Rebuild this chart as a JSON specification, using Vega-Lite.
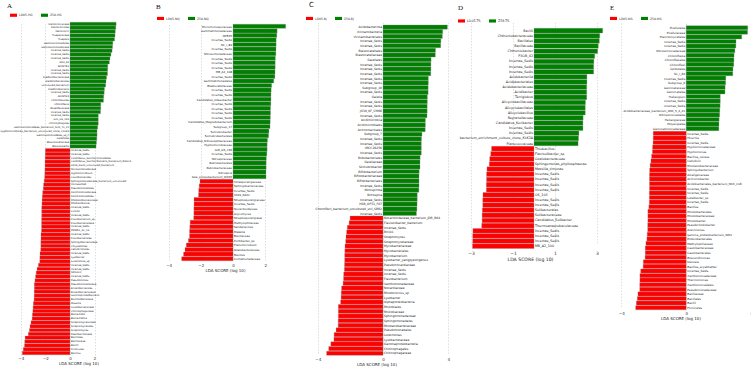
{
  "$schema": "https://vega.github.io/schema/vega-lite/v6.json",
  "background": "white",
  "padding": {"top": 1, "left": 0, "right": 0, "bottom": 0},
  "spacing": 0,
  "config": {
    "view": {"stroke": null},
    "font": "DejaVu Sans",
    "title": {"anchor": "start", "frame": "group", "fontSize": 7, "fontWeight": "normal", "baseline": "alphabetic", "font": "Liberation Serif", "color": "#111"},
    "axisX": {"grid": true, "gridDash": [1.5, 1.5], "gridColor": "#bdbdbd", "gridWidth": 0.5, "domain": false, "ticks": false, "labelOverlap": false, "labelFontSize": 4, "labelPadding": 1.5, "labelColor": "#333", "titleFontSize": 4, "titleFontWeight": "normal", "titlePadding": 1, "titleColor": "#222"},
    "legend": {"orient": "none", "direction": "horizontal", "columns": 2, "padding": 0, "symbolType": "M-1,-0.45H1V0.45H-1Z", "symbolSize": 49, "symbolStrokeWidth": 0, "labelFontSize": 3, "labelOffset": 2, "columnPadding": 8, "labelColor": "#333"},
    "text": {"color": "#222"}
  },
  "resolve": {"scale": {"color": "independent", "x": "independent", "y": "independent"}},
  "datasets": {
    "A": [
      {"rank": 1, "taxon": "Deinococcaceae", "lda": 3.75, "group": "Z58-HG"},
      {"rank": 2, "taxon": "Deinococcales", "lda": 3.72, "group": "Z58-HG"},
      {"rank": 3, "taxon": "Deinococci", "lda": 3.68, "group": "Z58-HG"},
      {"rank": 4, "taxon": "Trueperaceae", "lda": 3.66, "group": "Z58-HG"},
      {"rank": 5, "taxon": "Truepera", "lda": 3.62, "group": "Z58-HG"},
      {"rank": 6, "taxon": "Gemmatimonadales", "lda": 3.48, "group": "Z58-HG"},
      {"rank": 7, "taxon": "Gemmatimonadaceae", "lda": 3.46, "group": "Z58-HG"},
      {"rank": 8, "taxon": "Incertae_Sedis", "lda": 3.42, "group": "Z58-HG"},
      {"rank": 9, "taxon": "Incertae_Sedis", "lda": 3.33, "group": "Z58-HG"},
      {"rank": 10, "taxon": "Incertae_Sedis", "lda": 3.25, "group": "Z58-HG"},
      {"rank": 11, "taxon": "KD4_96", "lda": 3.2, "group": "Z58-HG"},
      {"rank": 12, "taxon": "AKIW781", "lda": 3.07, "group": "Z58-HG"},
      {"rank": 13, "taxon": "Incertae_Sedis", "lda": 3.06, "group": "Z58-HG"},
      {"rank": 14, "taxon": "Incertae_Sedis", "lda": 3.05, "group": "Z58-HG"},
      {"rank": 15, "taxon": "Ktedonobacteraceae", "lda": 2.97, "group": "Z58-HG"},
      {"rank": 16, "taxon": "Ktedonobacterales", "lda": 2.93, "group": "Z58-HG"},
      {"rank": 17, "taxon": "uncultured_bacterium", "lda": 2.9, "group": "Z58-HG"},
      {"rank": 18, "taxon": "Ktedonobacteria", "lda": 2.8, "group": "Z58-HG"},
      {"rank": 19, "taxon": "Incertae_Sedis", "lda": 2.78, "group": "Z58-HG"},
      {"rank": 20, "taxon": "AKIW543", "lda": 2.74, "group": "Z58-HG"},
      {"rank": 21, "taxon": "Chloroflexales", "lda": 2.72, "group": "Z58-HG"},
      {"rank": 22, "taxon": "Chloroflexia", "lda": 2.5, "group": "Z58-HG"},
      {"rank": 23, "taxon": "Roseiflexaceae", "lda": 2.5, "group": "Z58-HG"},
      {"rank": 24, "taxon": "Incertae_Sedis", "lda": 2.48, "group": "Z58-HG"},
      {"rank": 25, "taxon": "Incertae_Sedis", "lda": 2.3, "group": "Z58-HG"},
      {"rank": 26, "taxon": "Gitt_GS_136", "lda": 2.3, "group": "Z58-HG"},
      {"rank": 27, "taxon": "Chitinophagales", "lda": 2.3, "group": "Z58-HG"},
      {"rank": 28, "taxon": "Gemmatimonadetes_bacterium_SCN_70_22", "lda": 2.25, "group": "Z58-HG"},
      {"rank": 29, "taxon": "Hyphomicrobiales_bacterium_uncultured_clone_C1069", "lda": 2.2, "group": "Z58-HG"},
      {"rank": 30, "taxon": "Gemmatimonadetes_sp_II", "lda": 2.2, "group": "Z58-HG"},
      {"rank": 31, "taxon": "Gaiellales", "lda": 2.18, "group": "Z58-HG"},
      {"rank": 32, "taxon": "Blastocatellaceae", "lda": 2.15, "group": "Z58-HG"},
      {"rank": 33, "taxon": "Blastocatellia", "lda": 2.12, "group": "Z58-HG"},
      {"rank": 34, "taxon": "Incertae_Sedis", "lda": -2.0, "group": "LD05-HG"},
      {"rank": 35, "taxon": "Incertae_Sedis", "lda": -2.01, "group": "LD05-HG"},
      {"rank": 36, "taxon": "Candidatus_Saccharimonadales", "lda": -2.02, "group": "LD05-HG"},
      {"rank": 37, "taxon": "Candidatus_Saccharibacteria_bacterium_RAAC3", "lda": -2.03, "group": "LD05-HG"},
      {"rank": 38, "taxon": "0319_6G20_uncultured_bacterium", "lda": -2.03, "group": "LD05-HG"},
      {"rank": 39, "taxon": "Nitrosomonadaceae", "lda": -2.04, "group": "LD05-HG"},
      {"rank": 40, "taxon": "Hyphomicrobium", "lda": -2.05, "group": "LD05-HG"},
      {"rank": 41, "taxon": "Caulobacterales", "lda": -2.06, "group": "LD05-HG"},
      {"rank": 42, "taxon": "Sphingomonadaceae_bacterium_uncultured", "lda": -2.1, "group": "LD05-HG"},
      {"rank": 43, "taxon": "Unclassified", "lda": -2.15, "group": "LD05-HG"},
      {"rank": 44, "taxon": "Pseudomonadales", "lda": -2.17, "group": "LD05-HG"},
      {"rank": 45, "taxon": "Xanthomonadaceae", "lda": -2.22, "group": "LD05-HG"},
      {"rank": 46, "taxon": "Xanthomonadales", "lda": -2.25, "group": "LD05-HG"},
      {"rank": 47, "taxon": "Rhodanobacteraceae", "lda": -2.27, "group": "LD05-HG"},
      {"rank": 48, "taxon": "Rhodanobacter", "lda": -2.28, "group": "LD05-HG"},
      {"rank": 49, "taxon": "Incertae_Sedis", "lda": -2.3, "group": "LD05-HG"},
      {"rank": 50, "taxon": "CCD24", "lda": -2.3, "group": "LD05-HG"},
      {"rank": 51, "taxon": "Incertae_Sedis", "lda": -2.3, "group": "LD05-HG"},
      {"rank": 52, "taxon": "Flavobacterium_sp", "lda": -2.31, "group": "LD05-HG"},
      {"rank": 53, "taxon": "Flavobacteriaceae", "lda": -2.31, "group": "LD05-HG"},
      {"rank": 54, "taxon": "Incertae_Sedis", "lda": -2.31, "group": "LD05-HG"},
      {"rank": 55, "taxon": "PMMR1_AC_16", "lda": -2.32, "group": "LD05-HG"},
      {"rank": 56, "taxon": "Incertae_Sedis", "lda": -2.36, "group": "LD05-HG"},
      {"rank": 57, "taxon": "Flavobacteriales", "lda": -2.36, "group": "LD05-HG"},
      {"rank": 58, "taxon": "Sphingobacteriaceae", "lda": -2.37, "group": "LD05-HG"},
      {"rank": 59, "taxon": "Chryseolinea", "lda": -2.37, "group": "LD05-HG"},
      {"rank": 60, "taxon": "Cellvibrionales", "lda": -2.38, "group": "LD05-HG"},
      {"rank": 61, "taxon": "Incertae_Sedis", "lda": -2.44, "group": "LD05-HG"},
      {"rank": 62, "taxon": "Lysobacter", "lda": -2.45, "group": "LD05-HG"},
      {"rank": 63, "taxon": "Luteimonas_sp", "lda": -2.46, "group": "LD05-HG"},
      {"rank": 64, "taxon": "Incertae_Sedis", "lda": -2.57, "group": "LD05-HG"},
      {"rank": 65, "taxon": "Incertae_Sedis", "lda": -2.68, "group": "LD05-HG"},
      {"rank": 66, "taxon": "SM1A02", "lda": -2.75, "group": "LD05-HG"},
      {"rank": 67, "taxon": "Incertae_Sedis", "lda": -2.8, "group": "LD05-HG"},
      {"rank": 68, "taxon": "Pseudomonas", "lda": -2.85, "group": "LD05-HG"},
      {"rank": 69, "taxon": "Pseudomonadaceae", "lda": -2.9, "group": "LD05-HG"},
      {"rank": 70, "taxon": "Enterobacterales", "lda": -2.9, "group": "LD05-HG"},
      {"rank": 71, "taxon": "Enterobacteriaceae", "lda": -2.91, "group": "LD05-HG"},
      {"rank": 72, "taxon": "Gammaproteobacteria", "lda": -2.91, "group": "LD05-HG"},
      {"rank": 73, "taxon": "Burkholderiaceae", "lda": -2.92, "group": "LD05-HG"},
      {"rank": 74, "taxon": "Massilia", "lda": -2.98, "group": "LD05-HG"},
      {"rank": 75, "taxon": "Oxalobacteraceae", "lda": -3.0, "group": "LD05-HG"},
      {"rank": 76, "taxon": "Chitinophagaceae", "lda": -3.02, "group": "LD05-HG"},
      {"rank": 77, "taxon": "Bacteroidia", "lda": -3.06, "group": "LD05-HG"},
      {"rank": 78, "taxon": "Bacteroidota", "lda": -3.08, "group": "LD05-HG"},
      {"rank": 79, "taxon": "Streptomycetaceae", "lda": -3.17, "group": "LD05-HG"},
      {"rank": 80, "taxon": "Streptomycetales", "lda": -3.25, "group": "LD05-HG"},
      {"rank": 81, "taxon": "Streptomyces", "lda": -3.3, "group": "LD05-HG"},
      {"rank": 82, "taxon": "Paenibacillaceae", "lda": -3.39, "group": "LD05-HG"},
      {"rank": 83, "taxon": "Bacillales", "lda": -3.65, "group": "LD05-HG"},
      {"rank": 84, "taxon": "Bacillaceae", "lda": -3.68, "group": "LD05-HG"},
      {"rank": 85, "taxon": "Bacilli", "lda": -3.7, "group": "LD05-HG"},
      {"rank": 86, "taxon": "Firmicutes", "lda": -3.8, "group": "LD05-HG"},
      {"rank": 87, "taxon": "Bacillus", "lda": -3.88, "group": "LD05-HG"}
    ],
    "B": [
      {"rank": 1, "taxon": "Micromonosporaceae", "lda": 3.27, "group": "Z58-NQ"},
      {"rank": 2, "taxon": "Gemmatimonadaceae", "lda": 2.74, "group": "Z58-NQ"},
      {"rank": 3, "taxon": "OPB35", "lda": 2.72, "group": "Z58-NQ"},
      {"rank": 4, "taxon": "Incertae_Sedis", "lda": 2.68, "group": "Z58-NQ"},
      {"rank": 5, "taxon": "SC_I_84", "lda": 2.68, "group": "Z58-NQ"},
      {"rank": 6, "taxon": "Incertae_Sedis", "lda": 2.67, "group": "Z58-NQ"},
      {"rank": 7, "taxon": "Nitrosomonadaceae", "lda": 2.66, "group": "Z58-NQ"},
      {"rank": 8, "taxon": "Incertae_Sedis", "lda": 2.63, "group": "Z58-NQ"},
      {"rank": 9, "taxon": "Incertae_Sedis", "lda": 2.62, "group": "Z58-NQ"},
      {"rank": 10, "taxon": "Incertae_Sedis", "lda": 2.62, "group": "Z58-NQ"},
      {"rank": 11, "taxon": "MB_A2_108", "lda": 2.61, "group": "Z58-NQ"},
      {"rank": 12, "taxon": "Incertae_Sedis", "lda": 2.6, "group": "Z58-NQ"},
      {"rank": 13, "taxon": "Gemmatimonadales", "lda": 2.53, "group": "Z58-NQ"},
      {"rank": 14, "taxon": "Blastocatellaceae", "lda": 2.4, "group": "Z58-NQ"},
      {"rank": 15, "taxon": "Incertae_Sedis", "lda": 2.37, "group": "Z58-NQ"},
      {"rank": 16, "taxon": "Incertae_Sedis", "lda": 2.36, "group": "Z58-NQ"},
      {"rank": 17, "taxon": "Candidatus_Udaeobacter", "lda": 2.36, "group": "Z58-NQ"},
      {"rank": 18, "taxon": "Incertae_Sedis", "lda": 2.35, "group": "Z58-NQ"},
      {"rank": 19, "taxon": "Incertae_Sedis", "lda": 2.33, "group": "Z58-NQ"},
      {"rank": 20, "taxon": "Incertae_Sedis", "lda": 2.33, "group": "Z58-NQ"},
      {"rank": 21, "taxon": "Incertae_Sedis", "lda": 2.32, "group": "Z58-NQ"},
      {"rank": 22, "taxon": "Candidatus_Magnetobacterium", "lda": 2.31, "group": "Z58-NQ"},
      {"rank": 23, "taxon": "Subgroup_17", "lda": 2.3, "group": "Z58-NQ"},
      {"rank": 24, "taxon": "Solirubrobacter", "lda": 2.23, "group": "Z58-NQ"},
      {"rank": 25, "taxon": "Solirubrobacterales", "lda": 2.21, "group": "Z58-NQ"},
      {"rank": 26, "taxon": "Candidatus_Nitrososphaeraceae", "lda": 2.14, "group": "Z58-NQ"},
      {"rank": 27, "taxon": "Hyphomicrobiaceae", "lda": 2.12, "group": "Z58-NQ"},
      {"rank": 28, "taxon": "Gitt_GS_136", "lda": 2.12, "group": "Z58-NQ"},
      {"rank": 29, "taxon": "Incertae_Sedis", "lda": 2.1, "group": "Z58-NQ"},
      {"rank": 30, "taxon": "Nitrospiraceae", "lda": 2.07, "group": "Z58-NQ"},
      {"rank": 31, "taxon": "Rubrobacterales", "lda": 2.06, "group": "Z58-NQ"},
      {"rank": 32, "taxon": "Rubrobacteraceae", "lda": 2.06, "group": "Z58-NQ"},
      {"rank": 33, "taxon": "Nitrospira", "lda": 2.05, "group": "Z58-NQ"},
      {"rank": 34, "taxon": "Asia_proteobacterium_WX65", "lda": 2.05, "group": "Z58-NQ"},
      {"rank": 35, "taxon": "Intrasporangiaceae", "lda": -2.05, "group": "LD05-NQ"},
      {"rank": 36, "taxon": "Sphingobacteriaceae", "lda": -2.1, "group": "LD05-NQ"},
      {"rank": 37, "taxon": "Incertae_Sedis", "lda": -2.13, "group": "LD05-NQ"},
      {"rank": 38, "taxon": "0319_6A21", "lda": -2.14, "group": "LD05-NQ"},
      {"rank": 39, "taxon": "Streptosporangiaceae", "lda": -2.42, "group": "LD05-NQ"},
      {"rank": 40, "taxon": "Incertae_Sedis", "lda": -2.42, "group": "LD05-NQ"},
      {"rank": 41, "taxon": "Nocardioidaceae", "lda": -2.43, "group": "LD05-NQ"},
      {"rank": 42, "taxon": "Glycomyces", "lda": -2.43, "group": "LD05-NQ"},
      {"rank": 43, "taxon": "Streptosporangiales", "lda": -2.44, "group": "LD05-NQ"},
      {"rank": 44, "taxon": "Methylophilaceae", "lda": -2.66, "group": "LD05-NQ"},
      {"rank": 45, "taxon": "Sandaracinus", "lda": -2.68, "group": "LD05-NQ"},
      {"rank": 46, "taxon": "Massilia", "lda": -2.7, "group": "LD05-NQ"},
      {"rank": 47, "taxon": "Bacillaceae", "lda": -2.7, "group": "LD05-NQ"},
      {"rank": 48, "taxon": "Pontibacter_sp", "lda": -2.77, "group": "LD05-NQ"},
      {"rank": 49, "taxon": "Planomicrobium", "lda": -2.9, "group": "LD05-NQ"},
      {"rank": 50, "taxon": "Oxalobacteraceae", "lda": -2.98, "group": "LD05-NQ"},
      {"rank": 51, "taxon": "Bacillus", "lda": -3.07, "group": "LD05-NQ"},
      {"rank": 52, "taxon": "Comamonadaceae", "lda": -3.19, "group": "LD05-NQ"}
    ],
    "C": [
      {"rank": 1, "taxon": "Acidobacteriota", "lda": 3.95, "group": "Z58-BJ"},
      {"rank": 2, "taxon": "Vicinamibacteria", "lda": 3.66, "group": "Z58-BJ"},
      {"rank": 3, "taxon": "Vicinamibacterales", "lda": 3.64, "group": "Z58-BJ"},
      {"rank": 4, "taxon": "Incertae_Sedis", "lda": 3.55, "group": "Z58-BJ"},
      {"rank": 5, "taxon": "Incertae_Sedis", "lda": 3.54, "group": "Z58-BJ"},
      {"rank": 6, "taxon": "Blastocatellales", "lda": 3.22, "group": "Z58-BJ"},
      {"rank": 7, "taxon": "Blastocatellaceae", "lda": 3.21, "group": "Z58-BJ"},
      {"rank": 8, "taxon": "Gaiellales", "lda": 2.95, "group": "Z58-BJ"},
      {"rank": 9, "taxon": "Incertae_Sedis", "lda": 2.94, "group": "Z58-BJ"},
      {"rank": 10, "taxon": "Incertae_Sedis", "lda": 2.94, "group": "Z58-BJ"},
      {"rank": 11, "taxon": "Incertae_Sedis", "lda": 2.93, "group": "Z58-BJ"},
      {"rank": 12, "taxon": "Incertae_Sedis", "lda": 2.78, "group": "Z58-BJ"},
      {"rank": 13, "taxon": "Incertae_Sedis", "lda": 2.78, "group": "Z58-BJ"},
      {"rank": 14, "taxon": "Subgroup_10", "lda": 2.77, "group": "Z58-BJ"},
      {"rank": 15, "taxon": "Incertae_Sedis", "lda": 2.77, "group": "Z58-BJ"},
      {"rank": 16, "taxon": "Gaiella", "lda": 2.72, "group": "Z58-BJ"},
      {"rank": 17, "taxon": "Incertae_Sedis", "lda": 2.72, "group": "Z58-BJ"},
      {"rank": 18, "taxon": "Incertae_Sedis", "lda": 2.71, "group": "Z58-BJ"},
      {"rank": 19, "taxon": "JG30_KF_CM66", "lda": 2.71, "group": "Z58-BJ"},
      {"rank": 20, "taxon": "Incertae_Sedis", "lda": 2.7, "group": "Z58-BJ"},
      {"rank": 21, "taxon": "Acidimicrobiia", "lda": 2.6, "group": "Z58-BJ"},
      {"rank": 22, "taxon": "Acidimicrobiales", "lda": 2.6, "group": "Z58-BJ"},
      {"rank": 23, "taxon": "Actinomarinales", "lda": 2.59, "group": "Z58-BJ"},
      {"rank": 24, "taxon": "Subgroup_7", "lda": 2.39, "group": "Z58-BJ"},
      {"rank": 25, "taxon": "Incertae_Sedis", "lda": 2.36, "group": "Z58-BJ"},
      {"rank": 26, "taxon": "Incertae_Sedis", "lda": 2.35, "group": "Z58-BJ"},
      {"rank": 27, "taxon": "IMCC26256", "lda": 2.35, "group": "Z58-BJ"},
      {"rank": 28, "taxon": "Incertae_Sedis", "lda": 2.35, "group": "Z58-BJ"},
      {"rank": 29, "taxon": "Rokubacteriales", "lda": 2.28, "group": "Z58-BJ"},
      {"rank": 30, "taxon": "Gaiellaceae", "lda": 2.27, "group": "Z58-BJ"},
      {"rank": 31, "taxon": "Solirubrobacter", "lda": 2.27, "group": "Z58-BJ"},
      {"rank": 32, "taxon": "Bifidobacterium", "lda": 2.22, "group": "Z58-BJ"},
      {"rank": 33, "taxon": "Bifidobacteriaceae", "lda": 2.21, "group": "Z58-BJ"},
      {"rank": 34, "taxon": "Bifidobacteriales", "lda": 2.21, "group": "Z58-BJ"},
      {"rank": 35, "taxon": "Incertae_Sedis", "lda": 2.21, "group": "Z58-BJ"},
      {"rank": 36, "taxon": "Nitrospirota", "lda": 2.2, "group": "Z58-BJ"},
      {"rank": 37, "taxon": "Nitrospira", "lda": 2.1, "group": "Z58-BJ"},
      {"rank": 38, "taxon": "Incertae_Sedis", "lda": 2.1, "group": "Z58-BJ"},
      {"rank": 39, "taxon": "HSB_OF53_F07", "lda": 2.09, "group": "Z58-BJ"},
      {"rank": 40, "taxon": "Chloroflexi_bacterium_uncultured_soil_SBR2", "lda": 2.08, "group": "Z58-BJ"},
      {"rank": 41, "taxon": "Incertae_Sedis", "lda": 2.05, "group": "Z58-BJ"},
      {"rank": 42, "taxon": "Nocardioidaceae_bacterium_JDR_B04", "lda": -2.02, "group": "LD05-BJ"},
      {"rank": 43, "taxon": "Flavisolibacter_bacterium", "lda": -2.08, "group": "LD05-BJ"},
      {"rank": 44, "taxon": "Incertae_Sedis", "lda": -2.19, "group": "LD05-BJ"},
      {"rank": 45, "taxon": "BIrii41", "lda": -2.23, "group": "LD05-BJ"},
      {"rank": 46, "taxon": "Streptomyces", "lda": -2.27, "group": "LD05-BJ"},
      {"rank": 47, "taxon": "Streptomycetaceae", "lda": -2.29, "group": "LD05-BJ"},
      {"rank": 48, "taxon": "Mycobacteriaceae", "lda": -2.33, "group": "LD05-BJ"},
      {"rank": 49, "taxon": "Mycobacteriales", "lda": -2.34, "group": "LD05-BJ"},
      {"rank": 50, "taxon": "Mycobacterium", "lda": -2.35, "group": "LD05-BJ"},
      {"rank": 51, "taxon": "Lysobacter_yangpyeongensis", "lda": -2.35, "group": "LD05-BJ"},
      {"rank": 52, "taxon": "Pseudonocardiaceae", "lda": -2.36, "group": "LD05-BJ"},
      {"rank": 53, "taxon": "Incertae_Sedis", "lda": -2.37, "group": "LD05-BJ"},
      {"rank": 54, "taxon": "Incertae_Sedis", "lda": -2.41, "group": "LD05-BJ"},
      {"rank": 55, "taxon": "Flavobacterium", "lda": -2.42, "group": "LD05-BJ"},
      {"rank": 56, "taxon": "Xanthomonadaceae", "lda": -2.45, "group": "LD05-BJ"},
      {"rank": 57, "taxon": "Nocardiaceae", "lda": -2.54, "group": "LD05-BJ"},
      {"rank": 58, "taxon": "Rhodococcus_sp", "lda": -2.56, "group": "LD05-BJ"},
      {"rank": 59, "taxon": "Lysobacter", "lda": -2.57, "group": "LD05-BJ"},
      {"rank": 60, "taxon": "Alphaproteobacteria", "lda": -2.6, "group": "LD05-BJ"},
      {"rank": 61, "taxon": "Rhizobiales", "lda": -2.74, "group": "LD05-BJ"},
      {"rank": 62, "taxon": "Rhizobiaceae", "lda": -2.74, "group": "LD05-BJ"},
      {"rank": 63, "taxon": "Sphingomonadaceae", "lda": -2.74, "group": "LD05-BJ"},
      {"rank": 64, "taxon": "Sphingomonadales", "lda": -2.75, "group": "LD05-BJ"},
      {"rank": 65, "taxon": "Rhodanobacteraceae", "lda": -2.75, "group": "LD05-BJ"},
      {"rank": 66, "taxon": "Pseudomonadales", "lda": -2.88, "group": "LD05-BJ"},
      {"rank": 67, "taxon": "Luteimonas", "lda": -3.0, "group": "LD05-BJ"},
      {"rank": 68, "taxon": "Lysobacteraceae", "lda": -3.01, "group": "LD05-BJ"},
      {"rank": 69, "taxon": "Gammaproteobacteria", "lda": -3.2, "group": "LD05-BJ"},
      {"rank": 70, "taxon": "Chitinophagales", "lda": -3.33, "group": "LD05-BJ"},
      {"rank": 71, "taxon": "Chitinophagaceae", "lda": -3.46, "group": "LD05-BJ"}
    ],
    "D": [
      {"rank": 1, "taxon": "Bacilli", "lda": 3.27, "group": "Z58-TS"},
      {"rank": 2, "taxon": "Chthoniobacteraceae", "lda": 3.13, "group": "Z58-TS"},
      {"rank": 3, "taxon": "Bacillales", "lda": 3.11, "group": "Z58-TS"},
      {"rank": 4, "taxon": "Bacillaceae", "lda": 3.06, "group": "Z58-TS"},
      {"rank": 5, "taxon": "Chthoniobacter", "lda": 3.03, "group": "Z58-TS"},
      {"rank": 6, "taxon": "P3OB_42", "lda": 2.89, "group": "Z58-TS"},
      {"rank": 7, "taxon": "Incertae_Sedis", "lda": 2.85, "group": "Z58-TS"},
      {"rank": 8, "taxon": "Incertae_Sedis", "lda": 2.84, "group": "Z58-TS"},
      {"rank": 9, "taxon": "Incertae_Sedis", "lda": 2.84, "group": "Z58-TS"},
      {"rank": 10, "taxon": "Acidobacteriia", "lda": 2.52, "group": "Z58-TS"},
      {"rank": 11, "taxon": "Acidobacteriales", "lda": 2.52, "group": "Z58-TS"},
      {"rank": 12, "taxon": "Acidobacteriaceae", "lda": 2.51, "group": "Z58-TS"},
      {"rank": 13, "taxon": "Acidibacter", "lda": 2.51, "group": "Z58-TS"},
      {"rank": 14, "taxon": "Terriglobus", "lda": 2.51, "group": "Z58-TS"},
      {"rank": 15, "taxon": "Alicyclobacillaceae", "lda": 2.45, "group": "Z58-TS"},
      {"rank": 16, "taxon": "Alicyclobacillales", "lda": 2.44, "group": "Z58-TS"},
      {"rank": 17, "taxon": "Alicyclobacillus", "lda": 2.44, "group": "Z58-TS"},
      {"rank": 18, "taxon": "Reyranellaceae", "lda": 2.34, "group": "Z58-TS"},
      {"rank": 19, "taxon": "Candidatus_Koribacter", "lda": 2.33, "group": "Z58-TS"},
      {"rank": 20, "taxon": "Incertae_Sedis", "lda": 2.33, "group": "Z58-TS"},
      {"rank": 21, "taxon": "Incertae_Sedis", "lda": 2.14, "group": "Z58-TS"},
      {"rank": 22, "taxon": "bacterium_enrichment_culture_clone_KLK2A", "lda": 2.12, "group": "Z58-TS"},
      {"rank": 23, "taxon": "Planococcaceae", "lda": 2.1, "group": "Z58-TS"},
      {"rank": 24, "taxon": "Thiobacillus", "lda": -2.02, "group": "LD05-TS"},
      {"rank": 25, "taxon": "Flavisolibacter_sp", "lda": -2.06, "group": "LD05-TS"},
      {"rank": 26, "taxon": "Oxalobacteraceae", "lda": -2.11, "group": "LD05-TS"},
      {"rank": 27, "taxon": "Sphingomonas_phyllosphaerae", "lda": -2.13, "group": "LD05-TS"},
      {"rank": 28, "taxon": "Massilia_timonae", "lda": -2.24, "group": "LD05-TS"},
      {"rank": 29, "taxon": "Incertae_Sedis", "lda": -2.26, "group": "LD05-TS"},
      {"rank": 30, "taxon": "Incertae_Sedis", "lda": -2.26, "group": "LD05-TS"},
      {"rank": 31, "taxon": "Incertae_Sedis", "lda": -2.27, "group": "LD05-TS"},
      {"rank": 32, "taxon": "Incertae_Sedis", "lda": -2.27, "group": "LD05-TS"},
      {"rank": 33, "taxon": "OS_103", "lda": -2.43, "group": "LD05-TS"},
      {"rank": 34, "taxon": "Incertae_Sedis", "lda": -2.44, "group": "LD05-TS"},
      {"rank": 35, "taxon": "Incertae_Sedis", "lda": -2.44, "group": "LD05-TS"},
      {"rank": 36, "taxon": "Solibacterales", "lda": -2.46, "group": "LD05-TS"},
      {"rank": 37, "taxon": "Solibacteraceae", "lda": -2.47, "group": "LD05-TS"},
      {"rank": 38, "taxon": "Candidatus_Solibacter", "lda": -2.47, "group": "LD05-TS"},
      {"rank": 39, "taxon": "Thermoanaerobaculaceae", "lda": -2.49, "group": "LD05-TS"},
      {"rank": 40, "taxon": "Incertae_Sedis", "lda": -2.91, "group": "LD05-TS"},
      {"rank": 41, "taxon": "Incertae_Sedis", "lda": -2.92, "group": "LD05-TS"},
      {"rank": 42, "taxon": "Incertae_Sedis", "lda": -2.92, "group": "LD05-TS"},
      {"rank": 43, "taxon": "MB_A2_100", "lda": -2.93, "group": "LD05-TS"}
    ],
    "E": [
      {"rank": 1, "taxon": "Pirellulales", "lda": 3.79, "group": "Z58-WS"},
      {"rank": 2, "taxon": "Pirellulaceae", "lda": 3.78, "group": "Z58-WS"},
      {"rank": 3, "taxon": "Planctomycetales", "lda": 3.42, "group": "Z58-WS"},
      {"rank": 4, "taxon": "Incertae_Sedis", "lda": 3.07, "group": "Z58-WS"},
      {"rank": 5, "taxon": "Incertae_Sedis", "lda": 3.06, "group": "Z58-WS"},
      {"rank": 6, "taxon": "Nitrosomonadaceae", "lda": 3.0, "group": "Z58-WS"},
      {"rank": 7, "taxon": "Chloroflexia", "lda": 2.95, "group": "Z58-WS"},
      {"rank": 8, "taxon": "Chloroflexales", "lda": 2.94, "group": "Z58-WS"},
      {"rank": 9, "taxon": "Chloroflexi", "lda": 2.93, "group": "Z58-WS"},
      {"rank": 10, "taxon": "Opitutales", "lda": 2.88, "group": "Z58-WS"},
      {"rank": 11, "taxon": "SC_I_84", "lda": 2.87, "group": "Z58-WS"},
      {"rank": 12, "taxon": "Incertae_Sedis", "lda": 2.44, "group": "Z58-WS"},
      {"rank": 13, "taxon": "Subgroup_6", "lda": 2.43, "group": "Z58-WS"},
      {"rank": 14, "taxon": "Gemmataceae", "lda": 2.4, "group": "Z58-WS"},
      {"rank": 15, "taxon": "Gemmatales", "lda": 2.39, "group": "Z58-WS"},
      {"rank": 16, "taxon": "Haliangium", "lda": 2.1, "group": "Z58-WS"},
      {"rank": 17, "taxon": "Incertae_Sedis", "lda": 2.1, "group": "Z58-WS"},
      {"rank": 18, "taxon": "Incertae_Sedis", "lda": 2.09, "group": "Z58-WS"},
      {"rank": 19, "taxon": "Acidobacteriaceae_bacterium_WW_5_4_21", "lda": 2.07, "group": "Z58-WS"},
      {"rank": 20, "taxon": "Nitrosomonadales", "lda": 2.06, "group": "Z58-WS"},
      {"rank": 21, "taxon": "Haliangiaceae", "lda": 2.03, "group": "Z58-WS"},
      {"rank": 22, "taxon": "Polyangiales", "lda": 2.02, "group": "Z58-WS"},
      {"rank": 23, "taxon": "Gemmatimonadaceae", "lda": 2.01, "group": "Z58-WS"},
      {"rank": 24, "taxon": "Incertae_Sedis", "lda": -2.03, "group": "LD05-WS"},
      {"rank": 25, "taxon": "Hirschia", "lda": -2.03, "group": "LD05-WS"},
      {"rank": 26, "taxon": "Incertae_Sedis", "lda": -2.04, "group": "LD05-WS"},
      {"rank": 27, "taxon": "Hyphomonadaceae", "lda": -2.07, "group": "LD05-WS"},
      {"rank": 28, "taxon": "Hyphomonas", "lda": -2.08, "group": "LD05-WS"},
      {"rank": 29, "taxon": "Bacillus_cereus", "lda": -2.13, "group": "LD05-WS"},
      {"rank": 30, "taxon": "Cellvibrio", "lda": -2.17, "group": "LD05-WS"},
      {"rank": 31, "taxon": "Rhodanobacteraceae", "lda": -2.22, "group": "LD05-WS"},
      {"rank": 32, "taxon": "Sphingobacterium", "lda": -2.25, "group": "LD05-WS"},
      {"rank": 33, "taxon": "Alcaligenaceae", "lda": -2.26, "group": "LD05-WS"},
      {"rank": 34, "taxon": "Achromobacter", "lda": -2.26, "group": "LD05-WS"},
      {"rank": 35, "taxon": "Acidobacteriales_bacterium_KD3_118", "lda": -2.26, "group": "LD05-WS"},
      {"rank": 36, "taxon": "Incertae_Sedis", "lda": -2.26, "group": "LD05-WS"},
      {"rank": 37, "taxon": "Incertae_Sedis", "lda": -2.27, "group": "LD05-WS"},
      {"rank": 38, "taxon": "Luteibacter_sp", "lda": -2.27, "group": "LD05-WS"},
      {"rank": 39, "taxon": "Incertae_Sedis", "lda": -2.27, "group": "LD05-WS"},
      {"rank": 40, "taxon": "Bacillus", "lda": -2.3, "group": "LD05-WS"},
      {"rank": 41, "taxon": "Rhodobacterales", "lda": -2.36, "group": "LD05-WS"},
      {"rank": 42, "taxon": "Rhodobacteraceae", "lda": -2.36, "group": "LD05-WS"},
      {"rank": 43, "taxon": "Rhodobacter", "lda": -2.36, "group": "LD05-WS"},
      {"rank": 44, "taxon": "Pseudorhodobacter", "lda": -2.37, "group": "LD05-WS"},
      {"rank": 45, "taxon": "Arenimonas", "lda": -2.37, "group": "LD05-WS"},
      {"rank": 46, "taxon": "gamma_proteobacterium_WN1", "lda": -2.4, "group": "LD05-WS"},
      {"rank": 47, "taxon": "Enterobacterales", "lda": -2.42, "group": "LD05-WS"},
      {"rank": 48, "taxon": "Methylophilaceae", "lda": -2.48, "group": "LD05-WS"},
      {"rank": 49, "taxon": "Caulobacteraceae", "lda": -2.52, "group": "LD05-WS"},
      {"rank": 50, "taxon": "Caulobacterales", "lda": -2.52, "group": "LD05-WS"},
      {"rank": 51, "taxon": "Brevundimonas", "lda": -2.53, "group": "LD05-WS"},
      {"rank": 52, "taxon": "Devosia", "lda": -2.64, "group": "LD05-WS"},
      {"rank": 53, "taxon": "Bacillus_aryabhattai", "lda": -2.65, "group": "LD05-WS"},
      {"rank": 54, "taxon": "Incertae_Sedis", "lda": -2.8, "group": "LD05-WS"},
      {"rank": 55, "taxon": "Xanthomonadaceae", "lda": -2.85, "group": "LD05-WS"},
      {"rank": 56, "taxon": "Thermomonas", "lda": -2.85, "group": "LD05-WS"},
      {"rank": 57, "taxon": "Xanthomonadales", "lda": -2.86, "group": "LD05-WS"},
      {"rank": 58, "taxon": "Pseudomonadaceae", "lda": -2.86, "group": "LD05-WS"},
      {"rank": 59, "taxon": "Bacillaceae", "lda": -2.97, "group": "LD05-WS"},
      {"rank": 60, "taxon": "Bacillales", "lda": -3.01, "group": "LD05-WS"},
      {"rank": 61, "taxon": "Bacilli", "lda": -3.07, "group": "LD05-WS"},
      {"rank": 62, "taxon": "Firmicutes", "lda": -3.11, "group": "LD05-WS"}
    ]
  },
  "hconcat": [
    {
      "width": 147, "height": 333,
      "title": {"text": "A", "dx": 2, "offset": 2.5},
      "data": {"name": "A"},
      "encoding": {"y": {"field": "rank", "type": "ordinal", "axis": null, "scale": {"range": [0, 333], "paddingInner": 0.1, "paddingOuter": 0.05}}},
      "layer": [
        {"mark": {"type": "bar", "stroke": "#8c8c8c", "strokeWidth": 0.3},
         "encoding": {
           "x": {"field": "lda", "type": "quantitative", "scale": {"domain": [-5.285, 6.667], "nice": false}, "axis": {"values": [-4, -3, -2, -1, 0, 1, 2, 3], "title": "LDA SCORE (log 10)"}},
           "color": {"field": "group", "type": "nominal", "scale": {"domain": ["LD05-HG", "Z58-HG"], "range": ["#ff0000", "#008000"]}, "legend": {"title": null, "legendX": 5, "legendY": -10.5}}
         }},
        {"transform": [{"filter": "datum.lda > 0"}], "mark": {"type": "text", "align": "right", "dx": -1, "fontSize": 2.5}, "encoding": {"x": {"datum": 0}, "y": {"field": "rank", "type": "ordinal"}, "text": {"field": "taxon"}}},
        {"transform": [{"filter": "datum.lda < 0"}], "mark": {"type": "text", "align": "left", "dx": 1, "fontSize": 2.5}, "encoding": {"x": {"datum": 0}, "y": {"field": "rank", "type": "ordinal"}, "text": {"field": "taxon"}}}
      ]
    },
    {
      "width": 146, "height": 240,
      "title": {"text": "B", "dx": 4, "offset": 5.2},
      "data": {"name": "B"},
      "encoding": {"y": {"field": "rank", "type": "ordinal", "axis": null, "scale": {"range": [2, 239], "paddingInner": 0.1, "paddingOuter": 0.05}}},
      "layer": [
        {"mark": {"type": "bar", "stroke": "#8c8c8c", "strokeWidth": 0.3},
         "encoding": {
           "x": {"field": "lda", "type": "quantitative", "scale": {"domain": [-5.031, 4.037], "nice": false}, "axis": {"values": [-4, -3, -2, -1, 0, 1, 2, 3], "title": "LDA SCORE (log 10)"}},
           "color": {"field": "group", "type": "nominal", "scale": {"domain": ["LD05-NQ", "Z58-NQ"], "range": ["#ff0000", "#008000"]}, "legend": {"title": null, "legendX": 5, "legendY": -7.3}}
         }},
        {"transform": [{"filter": "datum.lda > 0"}], "mark": {"type": "text", "align": "right", "dx": -1, "fontSize": 2.8}, "encoding": {"x": {"datum": 0}, "y": {"field": "rank", "type": "ordinal"}, "text": {"field": "taxon"}}},
        {"transform": [{"filter": "datum.lda < 0"}], "mark": {"type": "text", "align": "left", "dx": 1, "fontSize": 2.8}, "encoding": {"x": {"datum": 0}, "y": {"field": "rank", "type": "ordinal"}, "text": {"field": "taxon"}}}
      ]
    },
    {
      "width": 157, "height": 334,
      "title": {"text": "C", "dx": 11, "offset": 6.4, "font": "DejaVu Sans"},
      "data": {"name": "C"},
      "encoding": {"y": {"field": "rank", "type": "ordinal", "axis": null, "scale": {"range": [2.7, 333.6], "paddingInner": 0.1, "paddingOuter": 0.05}}},
      "layer": [
        {"mark": {"type": "bar", "stroke": "#8c8c8c", "strokeWidth": 0.3},
         "encoding": {
           "x": {"field": "lda", "type": "quantitative", "scale": {"domain": [-5.215, 4.417], "nice": false}, "axis": {"values": [-4, -3, -2, -1, 0, 1, 2, 3, 4], "title": "LDA SCORE (log 10)"}},
           "color": {"field": "group", "type": "nominal", "scale": {"domain": ["LD05-BJ", "Z58-BJ"], "range": ["#ff0000", "#008000"]}, "legend": {"title": null, "legendX": 8, "legendY": -7.3}}
         }},
        {"transform": [{"filter": "datum.lda > 0"}], "mark": {"type": "text", "align": "right", "dx": -1, "fontSize": 3}, "encoding": {"x": {"datum": 0}, "y": {"field": "rank", "type": "ordinal"}, "text": {"field": "taxon"}}},
        {"transform": [{"filter": "datum.lda < 0"}], "mark": {"type": "text", "align": "left", "dx": 1, "fontSize": 3}, "encoding": {"x": {"datum": 0}, "y": {"field": "rank", "type": "ordinal"}, "text": {"field": "taxon"}}}
      ]
    },
    {
      "width": 150, "height": 227,
      "title": {"text": "D", "dx": 3, "offset": 5.7},
      "data": {"name": "D"},
      "encoding": {"y": {"field": "rank", "type": "ordinal", "axis": null, "scale": {"range": [6.1, 226.7], "paddingInner": 0.1, "paddingOuter": 0.05}}},
      "layer": [
        {"mark": {"type": "bar", "stroke": "#8c8c8c", "strokeWidth": 0.3},
         "encoding": {
           "x": {"field": "lda", "type": "quantitative", "scale": {"domain": [-3.762, 3.381], "nice": false}, "axis": {"values": [-3, -2, -1, 0, 1, 2, 3], "title": "LDA SCORE (log 10)", "labelFontSize": 4.5, "titleFontSize": 4.6}},
           "color": {"field": "group", "type": "nominal", "scale": {"domain": ["LD05-TS", "Z58-TS"], "range": ["#ff0000", "#008000"]}, "legend": {"title": null, "legendX": 3, "legendY": -5, "labelFontSize": 3.3}}
         }},
        {"transform": [{"filter": "datum.lda > 0"}], "mark": {"type": "text", "align": "right", "dx": -1, "fontSize": 3.3}, "encoding": {"x": {"datum": 0}, "y": {"field": "rank", "type": "ordinal"}, "text": {"field": "taxon"}}},
        {"transform": [{"filter": "datum.lda < 0"}], "mark": {"type": "text", "align": "left", "dx": 1, "fontSize": 3.3}, "encoding": {"x": {"datum": 0}, "y": {"field": "rank", "type": "ordinal"}, "text": {"field": "taxon"}}}
      ]
    },
    {
      "width": 151, "height": 288,
      "title": {"text": "E", "dx": 5, "offset": 3.7},
      "data": {"name": "E"},
      "encoding": {"y": {"field": "rank", "type": "ordinal", "axis": null, "scale": {"range": [3.4, 288], "paddingInner": 0.1, "paddingOuter": 0.05}}},
      "layer": [
        {"mark": {"type": "bar", "stroke": "#8c8c8c", "strokeWidth": 0.3},
         "encoding": {
           "x": {"field": "lda", "type": "quantitative", "scale": {"domain": [-5.0, 4.3], "nice": false}, "axis": {"values": [-4, -3, -2, -1, 0, 1, 2, 3, 4], "title": "LDA SCORE (log 10)"}},
           "color": {"field": "group", "type": "nominal", "scale": {"domain": ["LD05-WS", "Z58-WS"], "range": ["#ff0000", "#008000"]}, "legend": {"title": null, "legendX": 5, "legendY": -7.3}}
         }},
        {"transform": [{"filter": "datum.lda > 0"}], "mark": {"type": "text", "align": "right", "dx": -1, "fontSize": 2.9}, "encoding": {"x": {"datum": 0}, "y": {"field": "rank", "type": "ordinal"}, "text": {"field": "taxon"}}},
        {"transform": [{"filter": "datum.lda < 0"}], "mark": {"type": "text", "align": "left", "dx": 1, "fontSize": 2.9}, "encoding": {"x": {"datum": 0}, "y": {"field": "rank", "type": "ordinal"}, "text": {"field": "taxon"}}}
      ]
    }
  ]
}
